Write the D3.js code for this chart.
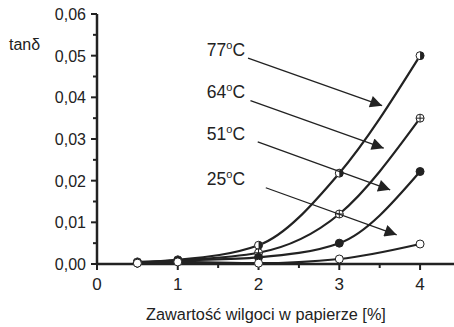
<!DOCTYPE html>
<html><head><meta charset="utf-8">
<script src="https://cdn.jsdelivr.net/npm/d3@7"></script>
<style>body{margin:0;background:#fff}svg{display:block;font-family:"Liberation Sans",Arial,sans-serif}</style>
</head><body><svg id="c" width="454" height="327"></svg>
<script>
const xValues = [0.5, 1, 2, 3, 4];
const s77 = [0.0005, 0.0010, 0.0045, 0.0218, 0.0500];
const s64 = [0.0004, 0.0009, 0.0027, 0.0120, 0.0350];
const s51 = [0.0003, 0.0008, 0.0016, 0.0050, 0.0222];
const s25 = [0.0002, 0.0005, 0.0002, 0.0012, 0.0048];
const seriesNames = ["77", "64", "51", "25"];
const markerTypes = ["half", "cross", "filled", "open"];
const xTicks = [0, 1, 2, 3, 4];
const yTicks = [0, 0.01, 0.02, 0.03, 0.04, 0.05, 0.06];
const xLabel = "Zawartość wilgoci w papierze [%]";
const yLabel = "tanδ";
// annotation label anchor (data coords) and arrow tip (data coords)
const labelPos = [[1.36, 0.0500], [1.36, 0.0398], [1.36, 0.0297], [1.36, 0.0190]];
const arrowStart = [[1.87, 0.0494], [1.90, 0.0392], [1.99, 0.0293], [2.09, 0.0183]];
const arrowTip = [[3.53, 0.0380], [3.55, 0.0278], [3.63, 0.0178], [3.71, 0.0070]];

const svg = d3.select("#c");
const x = d3.scaleLinear().domain([0, 4.42]).range([97, 454]);
const y = d3.scaleLinear().domain([0, 0.06]).range([264, 14]);
const fmt = d => d.toFixed(2).replace(".", ",");

// axes
const ax = svg.append("g");
ax.append("line").attr("x1", x(0)).attr("x2", 454).attr("y1", y(0)).attr("y2", y(0)).attr("stroke", "#222").attr("stroke-width", 2.5);
ax.append("line").attr("x1", x(0)).attr("x2", x(0)).attr("y1", y(0)+1).attr("y2", y(0.06)).attr("stroke", "#222").attr("stroke-width", 2.5);
d3.range(0, 4.01, 0.5).forEach(v => {
  const major = Math.abs(v - Math.round(v)) < 1e-6;
  ax.append("line").attr("x1", x(v)).attr("x2", x(v)).attr("y1", y(0)).attr("y2", y(0) + (major ? 6 : 4)).attr("stroke", "#222").attr("stroke-width", 2);
});
d3.range(0, 0.0601, 0.005).forEach(v => {
  const major = Math.abs(v*100 - Math.round(v*100)) < 1e-6;
  ax.append("line").attr("x1", x(0)).attr("x2", x(0) - (major ? 6 : 4)).attr("y1", y(v)).attr("y2", y(v)).attr("stroke", "#222").attr("stroke-width", 2);
});
xTicks.forEach(v => ax.append("text").attr("x", x(v)).attr("y", 290).attr("text-anchor", "middle").attr("font-size", 17).attr("fill", "#222").text(v));
yTicks.forEach(v => ax.append("text").attr("x", 86).attr("y", y(v) + 6).attr("text-anchor", "end").attr("font-size", 16).attr("fill", "#222").text(fmt(v)));
svg.append("text").attr("x", 266).attr("y", 320).attr("text-anchor", "middle").attr("font-size", 16.3).attr("fill", "#222").text(xLabel);
svg.append("text").attr("x", 9).attr("y", 50).attr("font-size", 16).attr("fill", "#222").text(yLabel);

// lines
const allSeries = [s77, s64, s51, s25];
const line = d3.line().x((d, i) => x(xValues[i])).y(d => y(d)).curve(d3.curveMonotoneX);
allSeries.forEach(s => svg.append("path").attr("d", line(s)).attr("fill", "none").attr("stroke", "#222").attr("stroke-width", 2.2));

// markers
const r = 4;
allSeries.forEach((s, k) => {
  const t = markerTypes[k];
  s.forEach((v, i) => {
    const cx = x(xValues[i]), cy = y(v);
    const g = svg.append("g");
    g.append("circle").attr("cx", cx).attr("cy", cy).attr("r", r).attr("fill", t === "filled" ? "#222" : "#fff").attr("stroke", "#222").attr("stroke-width", 1);
    if (t === "half") {
      g.append("path").attr("d", `M${cx},${cy - r}A${r},${r} 0 0 1 ${cx},${cy + r}Z`).attr("fill", "#222");
    } else if (t === "cross") {
      g.append("line").attr("x1", cx - r).attr("x2", cx + r).attr("y1", cy).attr("y2", cy).attr("stroke", "#222").attr("stroke-width", 1);
      g.append("line").attr("x1", cx).attr("x2", cx).attr("y1", cy - r).attr("y2", cy + r).attr("stroke", "#222").attr("stroke-width", 1);
    }
  });
});

// annotations
svg.append("defs").append("marker").attr("id", "ah").attr("viewBox", "0 0 10 10").attr("refX", 10).attr("refY", 5)
  .attr("markerWidth", 16).attr("markerHeight", 12).attr("markerUnits", "userSpaceOnUse").attr("orient", "auto")
  .append("path").attr("d", "M0,0L10,5L0,10Z").attr("fill", "#222");
seriesNames.forEach((n, k) => {
  const t = svg.append("text").attr("x", x(labelPos[k][0])).attr("y", y(labelPos[k][1])).attr("font-size", 17.5).attr("fill", "#222");
  t.append("tspan").text(n);
  t.append("tspan").attr("font-size", 11).attr("dy", -7).text("o");
  t.append("tspan").attr("dy", 7).text("C");
  svg.append("line").attr("x1", x(arrowStart[k][0])).attr("y1", y(arrowStart[k][1])).attr("x2", x(arrowTip[k][0])).attr("y2", y(arrowTip[k][1]))
    .attr("stroke", "#222").attr("stroke-width", 1.3).attr("marker-end", "url(#ah)");
});
</script></body></html>
